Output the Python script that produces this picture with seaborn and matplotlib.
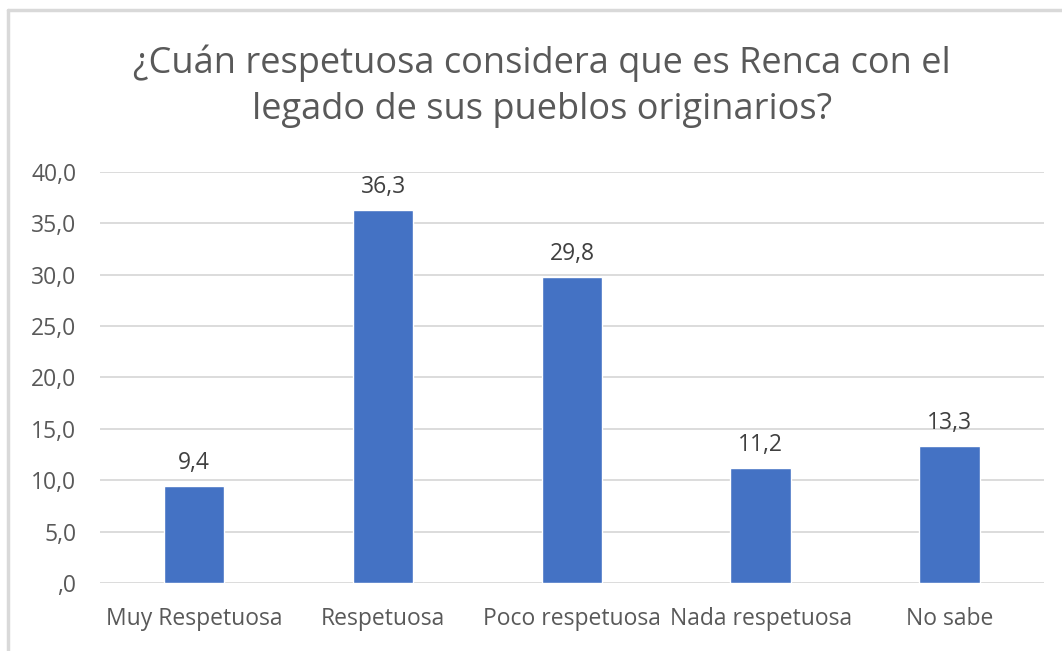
import pandas as pd
import seaborn as sns
import matplotlib.pyplot as plt
from matplotlib.lines import Line2D

# chart data
categorias = ['Muy Respetuosa', 'Respetuosa', 'Poco respetuosa', 'Nada respetuosa', 'No sabe']
porcentajes = [9.4, 36.3, 29.8, 11.2, 13.3]
y_ticks = [0, 5, 10, 15, 20, 25, 30, 35, 40]
titulo = '¿Cuán respetuosa considera que es Renca con el\nlegado de sus pueblos originarios?'

df = pd.DataFrame({'categoria': categorias, 'pct': porcentajes})

sns.set_style('white')
plt.rcParams['font.family'] = ['Open Sans', 'DejaVu Sans']
gris = '#595959'

fig = plt.figure(figsize=(10.62, 6.51), dpi=100)
ax = fig.add_axes([0.094, 0.1045, 0.889, 0.6315])

sns.barplot(data=df, x='categoria', y='pct', color='#4472C4', width=0.32,
            saturation=1, ax=ax, zorder=3)

ax.set_ylim(0, 40)
ax.set_yticks(y_ticks)
etiquetas_y = [f'{v:.1f}'.replace('.', ',') for v in y_ticks]
etiquetas_y[0] = ',0'
ax.set_yticklabels(etiquetas_y)
ax.yaxis.grid(True, color='#D9D9D9', linewidth=1.3, zorder=0)
ax.set_axisbelow(True)
for s in ['top', 'right', 'left', 'bottom']:
    ax.spines[s].set_visible(False)
ax.tick_params(axis='both', length=0, labelsize=16.5, colors=gris)
ax.tick_params(axis='y', pad=17)
ax.tick_params(axis='x', pad=17)
ax.set_xlabel('')
ax.set_ylabel('')

# value labels
for p, v in zip(ax.patches, porcentajes):
    ax.annotate(f'{v:.1f}'.replace('.', ','), (p.get_x() + p.get_width() / 2, v),
                xytext=(0, 8), textcoords='offset points', ha='center', va='bottom',
                fontsize=16.5, color='#404040')

fig.text(0.510, 0.867, titulo, ha='center', va='center', fontsize=26, color=gris,
         linespacing=1.38)

# chart frame (top and left edges)
fig.add_artist(Line2D([0.0075, 1.0], [0.984, 0.984], color='#D9D9D9', linewidth=2.5))
fig.add_artist(Line2D([0.0075, 0.0075], [0.0, 0.984], color='#D9D9D9', linewidth=2.5))

fig.savefig('out.png', dpi=100)
